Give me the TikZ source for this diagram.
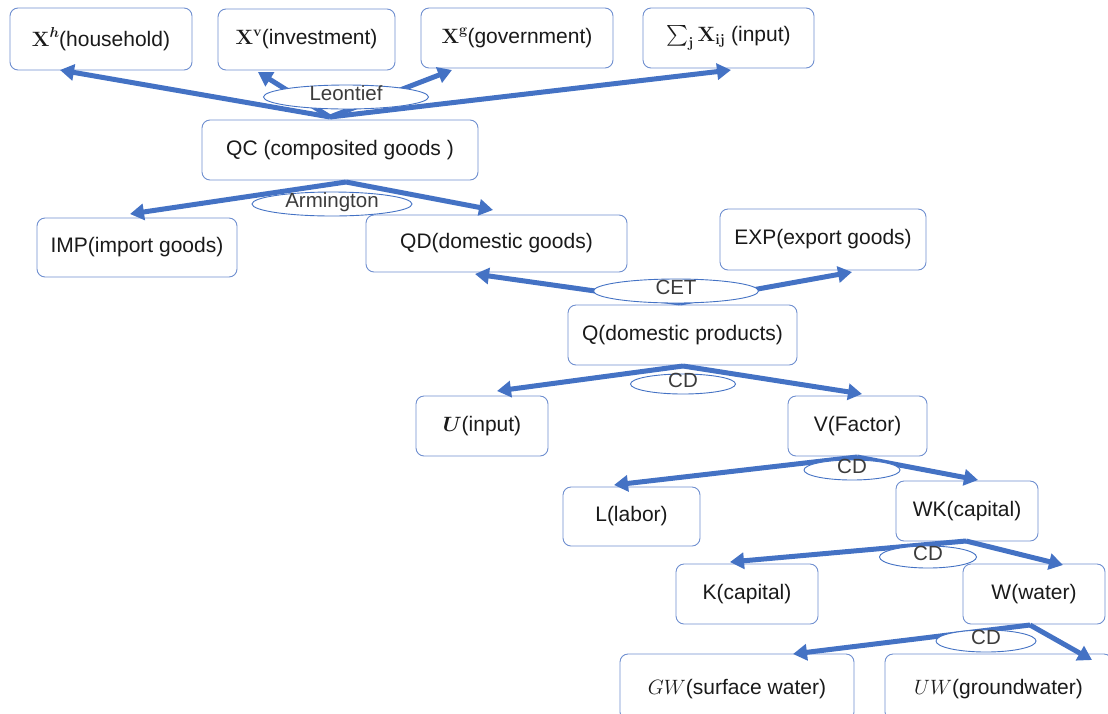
\documentclass[tikz,border=0pt]{standalone}
\usepackage{amsmath}
\usepackage[no-math]{fontspec}
\setmainfont{Liberation Sans}
\usetikzlibrary{arrows.meta,shapes.geometric}
\definecolor{arrowblue}{HTML}{4472C4}
\definecolor{boxblue}{HTML}{6F8FD0}
\definecolor{txt}{HTML}{1A1A1A}
\newcommand{\bsupx}[1]{{\boldmath$\mathbf{X}$\raisebox{0.42em}{\fontsize{15.5}{15.5}\selectfont$#1$}}}
\begin{document}
\begin{tikzpicture}[x=1pt,y=-1pt,
  box/.style={draw=boxblue, line width=0.9pt, rounded corners=8pt, fill=white, inner sep=0pt,
    text=txt, font=\fontsize{21}{25}\selectfont},
  oval/.style={ellipse, draw=arrowblue, line width=0.9pt, fill=white, inner sep=0pt,
    text=txt!85, text height=10pt, text depth=3pt, font=\fontsize{20.5}{24}\selectfont},
  arr/.style={draw=arrowblue, line width=5pt, -{Triangle[length=14pt,width=16pt]}},
]
\useasboundingbox (0,0) rectangle (1108,713);

% boxes
\node[box, minimum width=182pt, minimum height=62pt] (xh) at (101,39) {\bsupx{h}(household)};
\node[box, minimum width=177pt, minimum height=61pt] (xv) at (306.5,39.5) {\bsupx{\mathbf{v}}(investment)};
\node[box, minimum width=192pt, minimum height=60pt] (xg) at (517,38) {\bsupx{\mathbf{g}}(government)};
\node[box, minimum width=171pt, minimum height=60pt] (sx) at (728.5,38) {{\boldmath$\textstyle\sum_{\mathbf{j}}\mathbf{X}_{\mathbf{ij}}$} (input)};
\node[box, minimum width=276pt, minimum height=60pt] (qc) at (340,150) {QC (composited goods )};
\node[box, minimum width=200pt, minimum height=59pt] (imp) at (137,247.5) {IMP(import goods)};
\node[box, minimum width=261pt, minimum height=57pt] (qd) at (496.5,243.5) {QD(domestic goods)};
\node[box, minimum width=206pt, minimum height=61pt] (exp) at (823,239.5) {EXP(export goods)};
\node[box, minimum width=229pt, minimum height=60pt] (q) at (682.5,335) {Q(domestic products)};
\node[box, minimum width=132pt, minimum height=60pt] (u) at (482,426) {$\boldsymbol{U}$(input)};
\node[box, minimum width=139pt, minimum height=60pt] (v) at (857.5,426) {V(Factor)};
\node[box, minimum width=137pt, minimum height=59pt] (l) at (631.5,516.5) {L(labor)};
\node[box, minimum width=142pt, minimum height=60pt] (wk) at (967,511) {WK(capital)};
\node[box, minimum width=142pt, minimum height=60pt] (k) at (747,594) {K(capital)};
\node[box, minimum width=142pt, minimum height=60pt] (w) at (1034,594) {W(water)};
\node[box, minimum width=234pt, minimum height=66pt, text depth=0pt] (gw) at (737,687) {$GW$(surface water)};
\node[box, minimum width=227pt, minimum height=66pt, text depth=0pt] (uw) at (998.5,687) {$UW$(groundwater)};

% connector end points
\coordinate (qcT) at (330,117);
\coordinate (qcB) at (346,182);
\coordinate (qT) at (680,303);
\coordinate (qB) at (683,366);
\coordinate (vB) at (857,457);
\coordinate (wkB) at (966,541);
\coordinate (wB) at (1030,625);
\coordinate (toXh) at (60,70);
\coordinate (toXv) at (258,72);
\coordinate (toXg) at (452,70);
\coordinate (toSx) at (731,70);
\coordinate (toImp) at (130,214);
\coordinate (toQd) at (493,210);
\coordinate (toQdB) at (475,274);
\coordinate (toExp) at (852,272);
\coordinate (toU) at (497,391);
\coordinate (toV) at (862,394);
\coordinate (toL) at (614,485);
\coordinate (toWk) at (978,480);
\coordinate (toK) at (730,562);
\coordinate (toW) at (1063,565);
\coordinate (toGw) at (793,654);
\coordinate (toUw) at (1092,660);

% arrows
\draw[arr] (qcT) -- (toXh);
\draw[arr] (qcT) -- (toXv);
\draw[arr] (qcT) -- (toXg);
\draw[arr] (qcT) -- (toSx);
\draw[arr] (qcB) -- (toImp);
\draw[arr] (qcB) -- (toQd);
\draw[arr] (qT) -- (toQdB);
\draw[arr] (qT) -- (toExp);
\draw[arr] (qB) -- (toU);
\draw[arr] (qB) -- (toV);
\draw[arr] (vB) -- (toL);
\draw[arr] (vB) -- (toWk);
\draw[arr] (wkB) -- (toK);
\draw[arr] (wkB) -- (toW);
\draw[arr] (wB) -- (toGw);
\draw[arr] (wB) -- (toUw);

% ovals
\node[oval, minimum width=165pt, minimum height=24pt] (leon) at (346,97) {Leontief};
\node[oval, minimum width=160pt, minimum height=24pt] (arm) at (332,204) {Armington};
\node[oval, minimum width=165pt, minimum height=24pt] (cet) at (676,291) {CET};
\node[oval, minimum width=105pt, minimum height=20pt] (cd1) at (683,384) {CD};
\node[oval, minimum width=96pt, minimum height=20pt] (cd2) at (852,470) {CD};
\node[oval, minimum width=97pt, minimum height=22pt] (cd3) at (928,557) {CD};
\node[oval, minimum width=100pt, minimum height=22pt] (cd4) at (986,641) {CD};
\end{tikzpicture}
\end{document}
